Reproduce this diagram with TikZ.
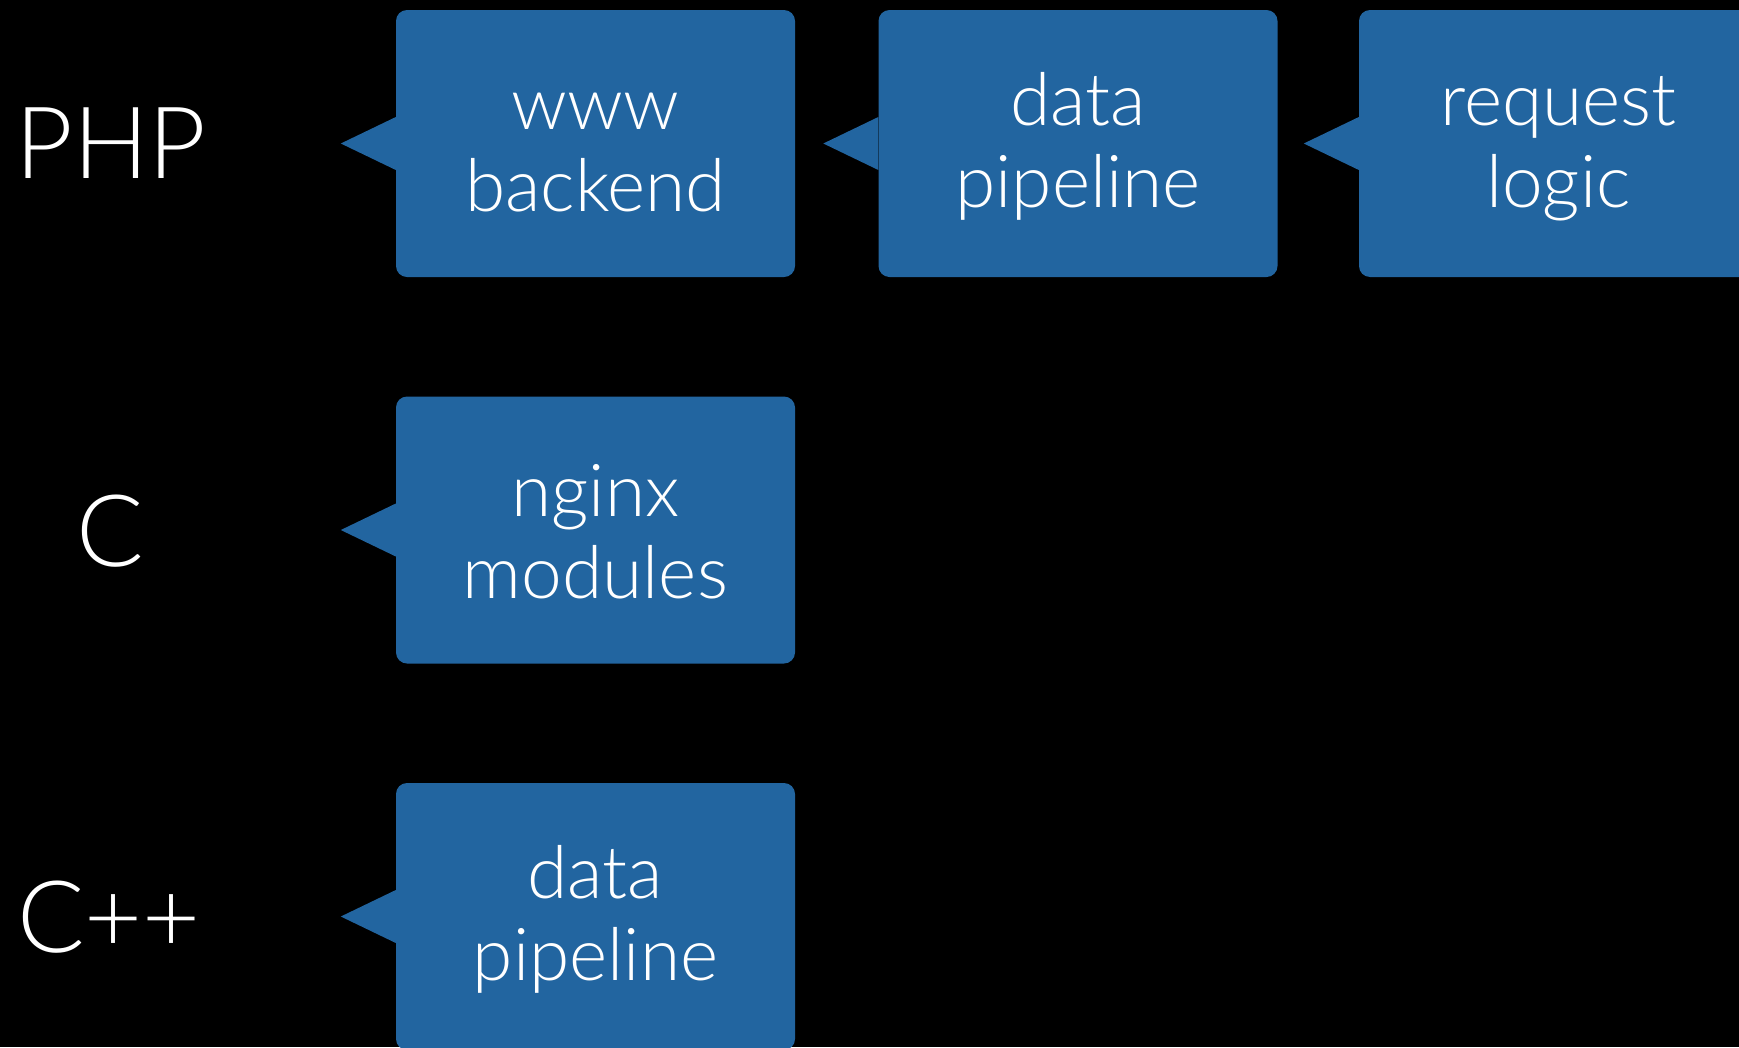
\documentclass[tikz,border=0pt]{standalone}
\usepackage{fontspec}
\newfontfamily\lightf{Lato Light}
\definecolor{bubble}{RGB}{34,101,160}
\begin{document}
\begin{tikzpicture}[x=1pt,y=-1pt,
  bubblebox/.style={fill=bubble, rounded corners=11pt, minimum width=399pt, minimum height=267pt,
    inner sep=0pt, text=white, align=center, font=\lightf\fontsize{73}{82}\selectfont},
  langlbl/.style={text=white, inner sep=0pt, anchor=base, font=\lightf\fontsize{100}{114}\selectfont},
  tail/.style={fill=bubble}]
\newcommand{\lnstrut}{\rule[-5pt]{0pt}{64pt}}
\fill[black] (0,0) rectangle (1739,1047);
\useasboundingbox (0,0) rectangle (1739,1047);
% row 1
\node[bubblebox] (b1) at (595.5,143.5) {\lnstrut www\\\lnstrut backend};
\node[bubblebox] (b2) at (1078,143.5) {\lnstrut data\\\lnstrut pipeline};
\node[bubblebox] (b3) at (1558.5,143.5) {\lnstrut request\\\lnstrut logic};
% row 2
\node[bubblebox] (b4) at (595.5,530) {\lnstrut nginx\\\lnstrut modules};
% row 3
\node[bubblebox] (b5) at (595.5,916.5) {\lnstrut data\\\lnstrut pipeline};
% tails
\foreach \b in {b1,b2,b3,b4,b5}{
  \fill[tail] ([yshift=26.5pt]\b.west) -- ([xshift=-55pt]\b.west) -- ([yshift=-26.5pt]\b.west) -- cycle;
}
% language labels
\node[langlbl] (php) at (111,178) {PHP};
\node[langlbl] (c) at (110,566) {C};
\node[langlbl] (cpp) at (109,952) {C++};
\end{tikzpicture}
\end{document}
